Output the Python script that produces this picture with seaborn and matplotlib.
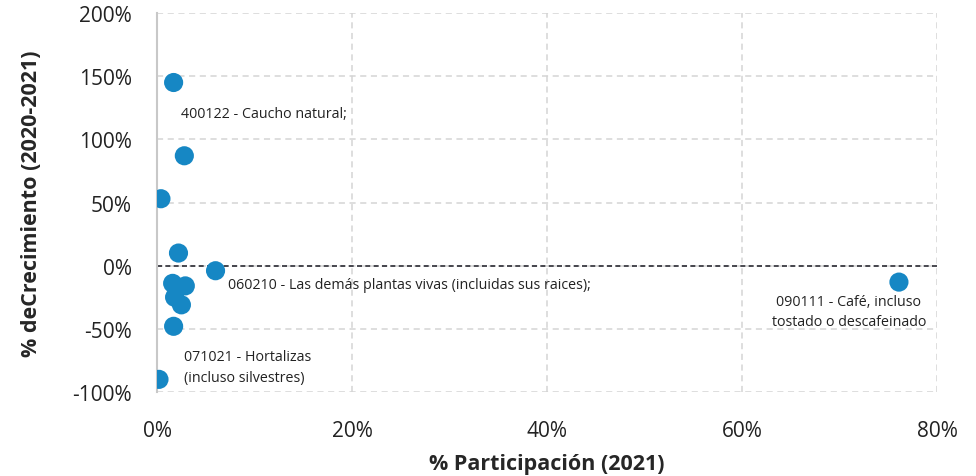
import matplotlib
matplotlib.use('Agg')
import matplotlib.pyplot as plt
import numpy as np
import pandas as pd
import seaborn as sns
from matplotlib.ticker import PercentFormatter

# % participation (2021) and % growth (2020-2021)
participacion = [1.7, 2.8, 0.4, 2.2, 6.0, 1.6, 2.9, 1.8, 2.5, 1.7, 0.2, 76.1]
crecimiento = [145, 87, 53, 10, -4, -14, -16, -25, -31, -48, -90, -13]

etiquetas = {
    0: '400122 - Caucho natural;',
    4: '060210 - Las demás plantas vivas (incluidas sus raices);',
    10: '071021 - Hortalizas\n(incluso silvestres)',
    11: '090111 - Café, incluso\ntostado o descafeinado',
}

df = pd.DataFrame({'participacion': participacion, 'crecimiento': crecimiento})

sns.set_style('white')
plt.rcParams['font.family'] = ['Open Sans', 'DejaVu Sans']
plt.rcParams['axes.unicode_minus'] = False

fig = plt.figure(figsize=(9.76, 4.77), dpi=100)
ax = fig.add_axes([0.1609, 0.1761, 0.7991, 0.7945])

sns.scatterplot(data=df, x='participacion', y='crecimiento', ax=ax,
                s=190, color='#1687c4', edgecolor='none', zorder=3)

ax.set_xlim(0, 80)
ax.set_ylim(-100, 200)
ax.set_xticks([0, 20, 40, 60, 80])
ax.set_yticks([-100, -50, 0, 50, 100, 150, 200])
ax.xaxis.set_major_formatter(PercentFormatter(decimals=0))
ax.yaxis.set_major_formatter(PercentFormatter(decimals=0))
ax.tick_params(axis='both', labelsize=15, colors='#222222', length=0)
ax.tick_params(axis='y', pad=18)
ax.tick_params(axis='x', pad=20)

ax.grid(True, linestyle=(0, (4, 3)), color='#d4d4d4', linewidth=1.1, zorder=0)
for s in ['top', 'right', 'bottom']:
    ax.spines[s].set_visible(False)
ax.spines['left'].set_color('#c8c8c8')
ax.spines['left'].set_linewidth(1.5)
ax.axhline(0, color='#2b2b33', linestyle=(0, (3, 2)), linewidth=1.2, zorder=1)

ax.set_xlabel('% Participación (2021)', fontsize=15.5, fontweight='bold', labelpad=9)
ax.set_ylabel('% deCrecimiento (2020-2021)', fontsize=15.5, fontweight='bold', labelpad=22)

# annotation placement (offsets in points from each point)
offsets = {0: (5, -22, 'left'), 4: (9, -10, 'left'), 10: (18, 9, 'left'), 11: (-36, -21, 'center')}
for i, txt in etiquetas.items():
    dx, dy, ha = offsets[i]
    ax.annotate(txt, (participacion[i], crecimiento[i]), xytext=(dx, dy),
                textcoords='offset points', ha=ha, va='center', fontsize=10.3,
                color='#222222', linespacing=1.5)

fig.savefig('out.png', dpi=100)
